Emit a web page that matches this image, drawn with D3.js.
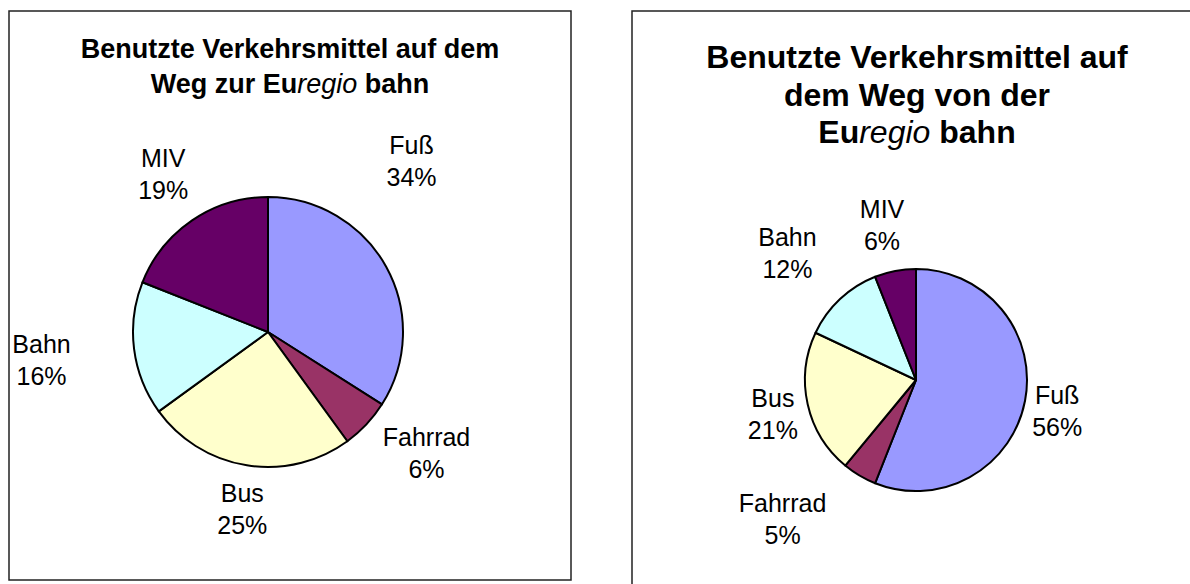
<!DOCTYPE html>
<html>
<head>
<meta charset="utf-8">
<script src="https://cdn.jsdelivr.net/npm/d3@7"></script>
<style>
  html, body { margin: 0; padding: 0; background: #fff; }
  svg { display: block; font-family: "Liberation Sans", Arial, sans-serif; }
</style>
</head>
<body>
<svg id="chart" width="1190" height="584"></svg>
<script>
// categories in drawing order (clockwise from 12 o'clock)
const categories = ['Fuß', 'Fahrrad', 'Bus', 'Bahn', 'MIV'];
// share in percent, way to the train
const valuesTo = [34, 6, 25, 16, 19];
// share in percent, way from the train
const valuesFrom = [56, 5, 21, 12, 6];

const colors = ['#9999ff', '#993366', '#ffffcc', '#ccffff', '#660066'];

const svg = d3.select('#chart');

const panels = [
  {
    values: valuesTo,
    box: { x: 9, y: 11, w: 562, h: 569 },
    cx: 268, cy: 332, r: 135,
    titleSize: 27, titleY: 58, titleStep: 35,
    title: [
      [{ t: 'Benutzte Verkehrsmittel auf dem', b: true }],
      [{ t: 'Weg zur ', b: true }, { t: 'Eu', b: true }, { t: 'regio', i: true }, { t: ' bahn', b: true }]
    ],
    labelR: 190,
    // per-label nudges (Excel moved some labels)
    nudge: [[-23, -79], [20, -9], [4, -11], [-38, 4], [2, -1]]
  },
  {
    values: valuesFrom,
    box: { x: 632, y: 11, w: 570, h: 590 },
    cx: 916, cy: 380, r: 111,
    titleSize: 32, titleY: 68, titleStep: 37.5,
    title: [
      [{ t: 'Benutzte Verkehrsmittel auf', b: true }],
      [{ t: 'dem Weg von der', b: true }],
      [{ t: 'Eu', b: true }, { t: 'regio', i: true }, { t: ' bahn', b: true }]
    ],
    labelR: 160,
    nudge: [[-16, 1], [-52, 1], [13, -1], [-19, -10], [-4, 2]]
  }
];

const labelSize = 25;
const labelStep = 32;

panels.forEach(p => {
  svg.append('rect')
    .attr('x', p.box.x).attr('y', p.box.y)
    .attr('width', p.box.w).attr('height', p.box.h)
    .attr('fill', '#fff').attr('stroke', '#222').attr('stroke-width', 1.5);

  const midX = p.box.x + p.box.w / 2;

  // title
  p.title.forEach((line, i) => {
    const t = svg.append('text')
      .attr('x', midX)
      .attr('y', p.titleY + i * p.titleStep)
      .attr('text-anchor', 'middle')
      .attr('font-size', p.titleSize)
      .attr('fill', '#000');
    line.forEach(seg => {
      t.append('tspan')
        .attr('font-weight', seg.b ? 'bold' : 'normal')
        .attr('font-style', seg.i ? 'italic' : 'normal')
        .text(seg.t);
    });
  });

  const pie = d3.pie().sort(null).value(d => d);
  const arcs = pie(p.values);
  const arc = d3.arc().innerRadius(0).outerRadius(p.r);
  const labelArc = d3.arc().innerRadius(p.labelR).outerRadius(p.labelR);

  const g = svg.append('g').attr('transform', `translate(${p.cx},${p.cy})`);

  g.selectAll('path')
    .data(arcs)
    .join('path')
    .attr('d', arc)
    .attr('fill', (d, i) => colors[i])
    .attr('stroke', '#000')
    .attr('stroke-width', 2)
    .attr('stroke-linejoin', 'round');

  const lbl = g.selectAll('text.lbl')
    .data(arcs)
    .join('text')
    .attr('class', 'lbl')
    .attr('text-anchor', 'middle')
    .attr('font-size', labelSize)
    .attr('fill', '#000')
    .attr('transform', (d, i) => {
      const [x, y] = labelArc.centroid(d);
      return `translate(${x + p.nudge[i][0]},${y + p.nudge[i][1]})`;
    });

  lbl.append('tspan')
    .attr('x', 0).attr('y', -labelStep / 2 + 9)
    .text((d, i) => categories[i]);
  lbl.append('tspan')
    .attr('x', 0).attr('y', labelStep / 2 + 9)
    .text(d => d.data + '%');
});
</script>
</body>
</html>
